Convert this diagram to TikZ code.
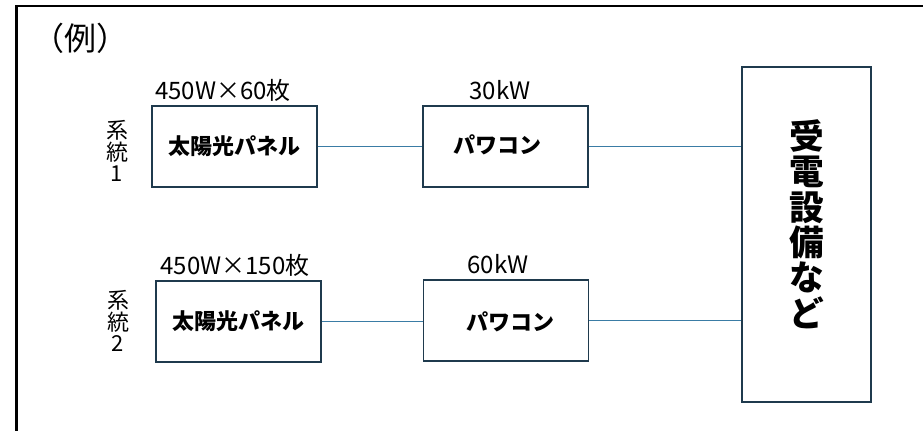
\documentclass[tikz,border=0pt]{standalone}
\usepackage{fontspec}
\setmainfont{Noto Sans CJK JP}
\usetikzlibrary{positioning}

\definecolor{boxline}{HTML}{1F3A4D}
\definecolor{wire}{HTML}{3A7CA5}

\tikzset{
	unitbox/.style={draw=boxline, line width=1.1pt, minimum width=123.75pt, minimum height=60.75pt, inner sep=0pt},
	unitname/.style={font=\fontsize{16.5}{18}\selectfont\bfseries},
	spec/.style={font=\fontsize{18}{20}\selectfont, inner sep=0pt},
	sysname/.style={font=\fontsize{16.5}{16}\selectfont, align=center, inner sep=0pt},
	wireline/.style={draw=wire, line width=0.8pt}
}

\begin{document}
\begin{tikzpicture}[x=0.75pt, y=-0.75pt]
		\useasboundingbox (0,0) rectangle (923,431);

		% Draw the frame
		\draw[line width=2pt] (16.5,431) -- (16.5,6) -- (923,6);
		\node[font=\fontsize{24}{26}\selectfont, inner sep=0pt] (example) at (80,38) {（例）};

		% Draw the boxes of system 1
		\node[unitbox, unitname] (panelA) at (234.5,146.5) {太陽光パネル};
		\node[unitbox] (pcsA) at (505.5,146.5) {};
		\node[unitname, inner sep=0pt] (pcsAname) at (497,145) {パワコン};

		% Draw the boxes of system 2
		\node[unitbox, unitname] (panelB) at (238.5,321.5) {太陽光パネル};
		\node[unitbox] (pcsB) at (506,320.5) {};
		\node[unitname, inner sep=0pt] (pcsBname) at (510,322) {パワコン};

		% Draw the receiving box
		\node[draw=boxline, line width=1.1pt, minimum width=96.75pt, minimum height=251.25pt, inner sep=0pt] (recv) at (806.5,234.5) {};
		\node[font=\fontsize{26}{26.6}\selectfont\bfseries, align=center, inner sep=0pt] (recvname) at (807,224)
			{受\\電\\設\\備\\な\\ど};

		% Draw the labels
		\node[spec] (specA) at (223,90) {450W×60枚};
		\node[spec] (specB) at (235,265) {450W×150枚};
		\node[spec] (ratingA) at (500,90) {30kW};
		\node[spec] (ratingB) at (498,264) {60kW};
		\node[sysname] (sysA) at (117,151) {系\\統\\1};
		\node[sysname] (sysB) at (118,321) {系\\統\\2};

		% Draw the wires
		\draw[wireline] (panelA.east) -- (pcsA.west);
		\draw[wireline] (pcsA.east) -- (pcsA.east -| recv.west);
		\draw[wireline] (panelB.east) -- (panelB.east -| pcsB.west);
		\draw[wireline] (pcsB.east) -- (pcsB.east -| recv.west);

	\end{tikzpicture}
\end{document}
